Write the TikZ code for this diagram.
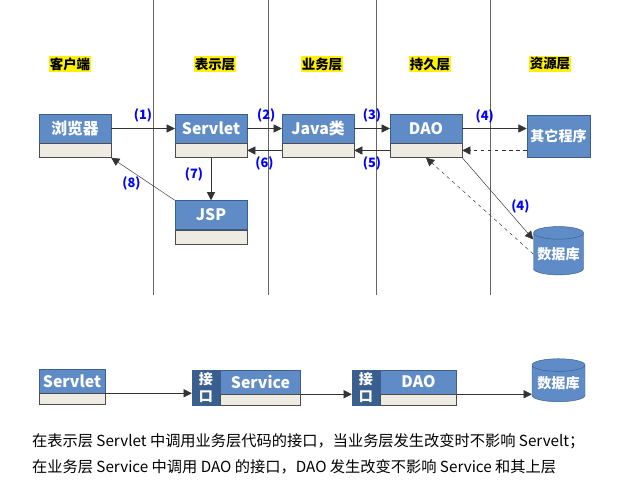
\documentclass[tikz,border=0pt]{standalone}
\usepackage{fontspec}
\setmainfont{Noto Sans CJK SC}
\usetikzlibrary{shapes.geometric, arrows.meta, positioning}
\definecolor{boxblue}{HTML}{5F8CC6}
\definecolor{boxgray}{HTML}{EEEBE3}
\definecolor{darkblue}{HTML}{3A5F8F}
\begin{document}
\begin{tikzpicture}[x=0.03cm, y=-0.03cm,
        head/.style={fill=yellow, inner sep=1pt, font=\fontsize{11.5}{13}\selectfont\bfseries},
        top/.style={rectangle, draw=darkblue, fill=boxblue, text=white, font=\fontsize{13.5}{15}\selectfont\bfseries, minimum width=2.16cm, minimum height=0.87cm, inner sep=0pt},
        bot/.style={rectangle, draw=black!70, fill=boxgray, minimum width=2.16cm, minimum height=0.42cm, inner sep=0pt},
        db/.style={cylinder, shape border rotate=90, aspect=0.3, draw=darkblue, fill=boxblue, text=white, font=\fontsize{12}{14}\selectfont\bfseries, minimum width=1.5cm, minimum height=1.45cm, inner sep=0pt},
        iface/.style={rectangle, draw=darkblue, fill=darkblue, text=white, font=\fontsize{12}{15}\selectfont\bfseries, minimum width=0.84cm, minimum height=1.05cm, align=center, inner sep=0pt},
        num/.style={text=blue, font=\fontsize{11}{13}\selectfont\bfseries},
        arrow/.style={-{Triangle[length=7pt, width=7pt]}, black!80},
        back/.style={arrow, dashed}
    ]
        \useasboundingbox (0,0) rectangle (622,487);

        % lanes
        \foreach \x in {153,268,376,490}
            \draw [black!60] (\x,0) -- (\x,295);

        % headers
        \node (hclient) [head] at (70,64) {客户端};
        \node (hview) [head] at (215,64) {表示层};
        \node (hbiz) [head] at (322,64) {业务层};
        \node (hdao) [head] at (430,64) {持久层};
        \node (hres) [head] at (550,64) {资源层};

        % upper row
        \node (browser) [top] at (75,128.5) {浏览器};
        \node (browserb) [bot, below=0pt of browser] {};
        \node (servlet) [top] at (211,128.5) {Servlet};
        \node (servletb) [bot, below=0pt of servlet] {};
        \node (java) [top] at (318,128.5) {Java类};
        \node (javab) [bot, below=0pt of java] {};
        \node (dao) [top] at (426,128.5) {DAO};
        \node (daob) [bot, below=0pt of dao] {};
        \node (other) [top, font=\fontsize{12}{14}\selectfont\bfseries, minimum width=1.9cm, minimum height=1.26cm] at (558.5,136) {其它程序};
        \node (jsp) [top] at (211,215) {JSP};
        \node (jspb) [bot, below=0pt of jsp] {};
        \node (db) [db] at (558.5,254) {数据库};

        % calls
        \draw [arrow] (browser) -- (servlet) node [num, pos=0.5, above=2pt] {(1)};
        \draw [arrow] (servlet) -- (java) node [num, pos=0.55, above=2pt] {(2)};
        \draw [arrow] (java) -- (dao) node [num, pos=0.5, above=2pt] {(3)};
        \draw [arrow] (dao.east) -- (other.west |- dao.east) node [num, pos=0.35, above=1pt] {(4)};
        \draw [back] (other.west |- daob.east) -- (daob.east);
        \draw [arrow] (daob) -- (javab) node [num, pos=0.5, below=2pt] {(5)};
        \draw [arrow] (javab) -- (servletb) node [num, pos=0.5, below=2pt] {(6)};
        \draw [arrow, thick] (servletb) -- (jsp) node [num, pos=0.4, left=3pt] {(7)};
        \draw [arrow] (jsp.north west) -- (browserb.south east) node [num, pos=0.4, left=4pt] {(8)};
        \draw [arrow] (daob.south east) -- (db.150) node [num, pos=0.6, right=2pt] {(4)};
        \draw [back] (db.west) -- (daob.south);

        % lower row
        \node (servlet2) [top, minimum width=1.98cm, minimum height=0.72cm] at (72,381) {Servlet};
        \node (servlet2b) [bot, minimum width=1.98cm, minimum height=0.33cm, below=0pt of servlet2] {};
        \node (iface1) [iface] at (206,387.5) {接\\口};
        \node (service) [top, minimum width=2.4cm, minimum height=0.72cm, anchor=north west] at (iface1.north east) {Service};
        \node (serviceb) [bot, minimum width=2.4cm, minimum height=0.33cm, below=0pt of service] {};
        \node (iface2) [iface] at (366,387.5) {接\\口};
        \node (dao2) [top, minimum width=2.28cm, minimum height=0.72cm, anchor=north west] at (iface2.north east) {DAO};
        \node (dao2b) [bot, minimum width=2.28cm, minimum height=0.33cm, below=0pt of dao2] {};
        \node (db2) [db, minimum width=1.59cm, minimum height=1.29cm] at (558.5,383.5) {数据库};

        \draw [arrow] (servlet2.south east) -- (iface1.west |- servlet2.south east);
        \draw [arrow] (service.south east) -- (iface2.west |- service.south east);
        \draw [arrow] (dao2.south east) -- (db2.west |- dao2.south east);

        % notes
        \node (note1) [anchor=west, font=\fontsize{13}{15}\selectfont] at (28,441) {在表示层 Servlet 中调用业务层代码的接口，当业务层发生改变时不影响 Servelt；};
        \node (note2) [anchor=west, font=\fontsize{13}{15}\selectfont] at (28,467) {在业务层 Service 中调用 DAO 的接口，DAO 发生改变不影响 Service 和其上层};
    \end{tikzpicture}
\end{document}
